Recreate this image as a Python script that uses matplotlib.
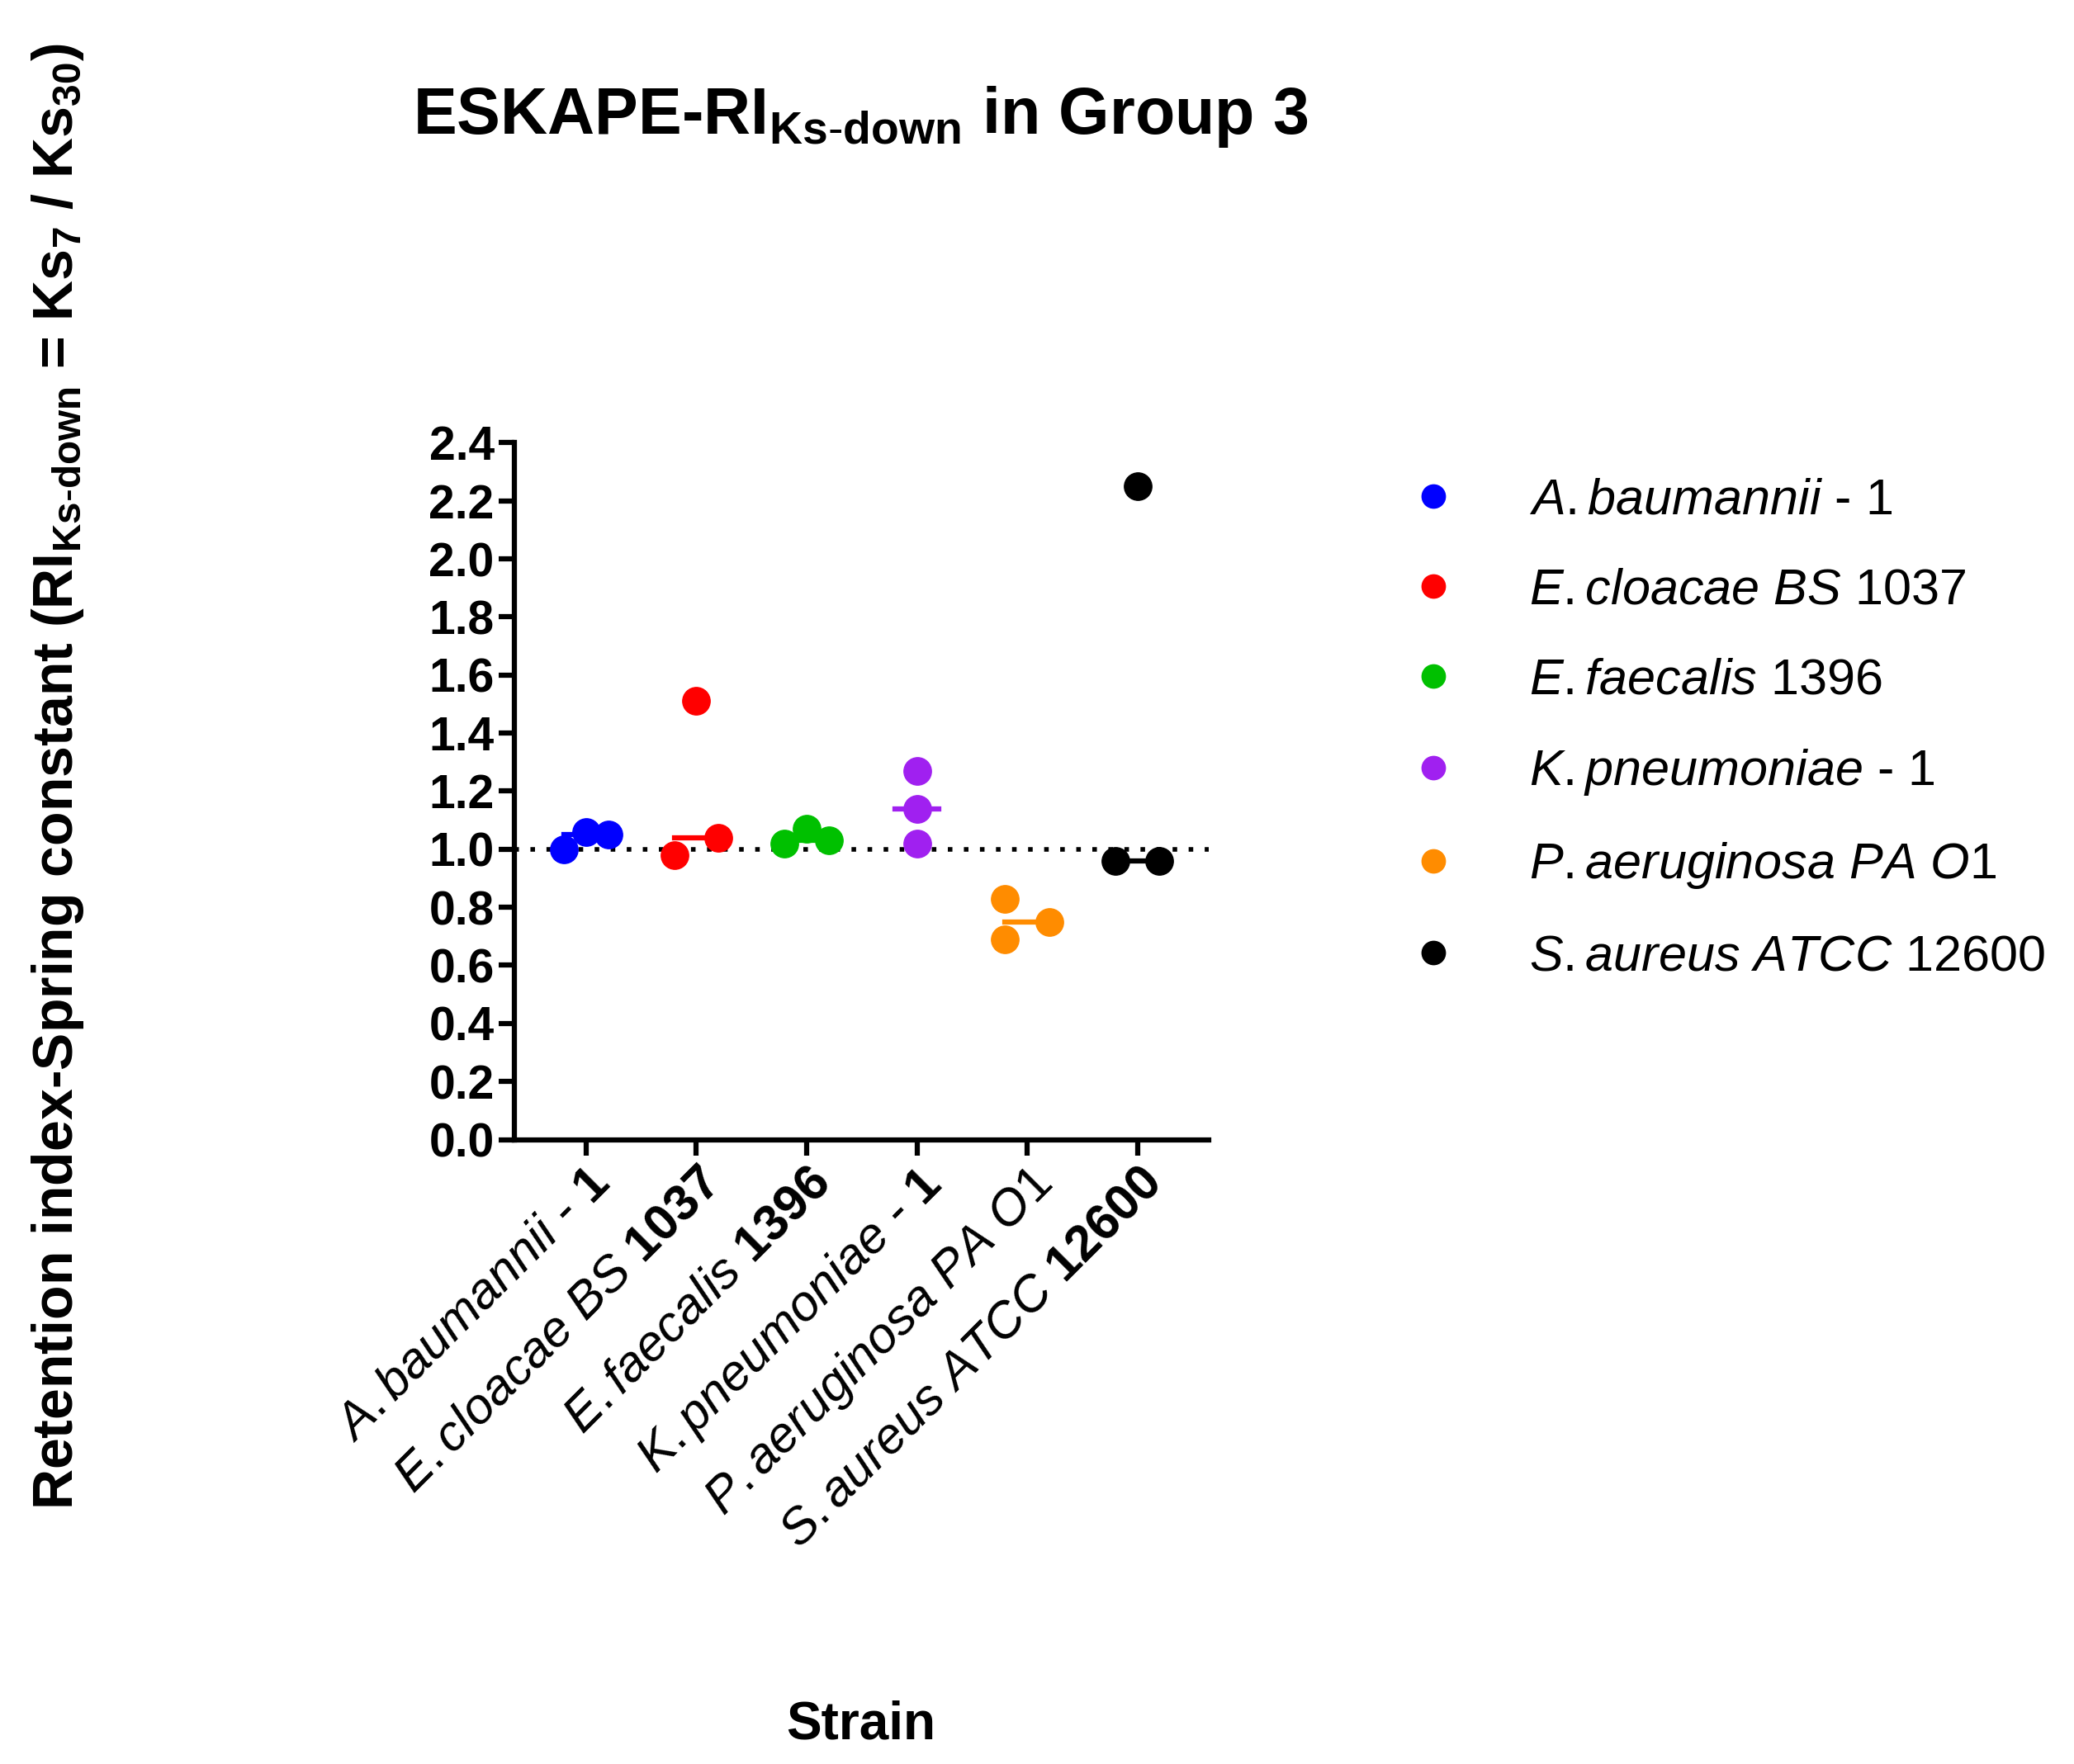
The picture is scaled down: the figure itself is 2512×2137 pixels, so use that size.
import matplotlib
matplotlib.use("Agg")
import matplotlib.pyplot as plt
import numpy as np

plt.rcParams['font.family'] = ['Liberation Sans', 'DejaVu Sans']
plt.rcParams['mathtext.fontset'] = 'custom'
plt.rcParams['mathtext.rm'] = 'Liberation Sans'
plt.rcParams['mathtext.it'] = 'Liberation Sans:italic'
plt.rcParams['mathtext.bf'] = 'Liberation Sans:bold'

strains = ["A.baumannii", "E.cloacae BS", "E.faecalis", "K.pneumoniae", "P.aeruginosa PA O1", "S.aureus ATCC"]
suffixes = [" - 1", " 1037", " 1396", " - 1", "", " 12600"]
colors = ["#0000FF", "#FF0000", "#00C000", "#A020F0", "#FF8C00", "#000000"]
values = [
    [1.00, 1.06, 1.05],
    [0.98, 1.51, 1.04],
    [1.02, 1.07, 1.03],
    [1.02, 1.27, 1.14],
    [0.69, 0.83, 0.75],
    [0.96, 2.25, 0.96],
]
yticks = [0.0, 0.2, 0.4, 0.6, 0.8, 1.0, 1.2, 1.4, 1.6, 1.8, 2.0, 2.2, 2.4]

# horizontal spread of points within each group (styling)
offsets = [
    [-0.2, 0.0, 0.2],
    [-0.2, 0.0, 0.2],
    [-0.2, 0.0, 0.2],
    [0.0, 0.0, 0.0],
    [-0.2, -0.2, 0.2],
    [-0.2, 0.0, 0.2],
]

def it(s):
    return r'$\mathit{' + s.replace(' ', r'\ ').replace('.', '{.}') + '}$'

fig = plt.figure(figsize=(25.12, 21.37), dpi=100)
ax = fig.add_axes([0.248, 0.354, 0.335, 0.395])

for i, (vals, c) in enumerate(zip(values, colors)):
    xs = [i + o for o in offsets[i]]
    ax.plot(xs, vals, 'o', color=c, markersize=24, zorder=3,
            label=it(strains[i]) + suffixes[i], linestyle='none')
    med = np.median(vals)
    ax.plot([i - 0.2, i + 0.2], [med, med], color=c, lw=4.5, zorder=2)

ax.axhline(1.0, color='black', lw=4, ls=(0, (1, 2.5)), zorder=1)

ax.set_xlim(-0.65, 5.65)
ax.set_ylim(0, 2.4)
ax.set_yticks(yticks)
ax.set_yticklabels([f"{v:.1f}" for v in yticks], fontsize=41, fontweight='bold')
ax.set_xticks(range(len(strains)))
ax.set_xticklabels([it(s) + r'$\mathbf{' + suf.replace(' ', r'\ ').replace('-', r'\text{-}') + '}$' if suf else it(s)
                    for s, suf in zip(strains, suffixes)],
                   rotation=45, ha='right', rotation_mode='anchor', fontsize=44)
for sp in ['top', 'right']:
    ax.spines[sp].set_visible(False)
for sp in ['left', 'bottom']:
    ax.spines[sp].set_linewidth(4.5)
ax.tick_params(width=4.5, length=14)

fig.text(0.415, 0.934, r'ESKAPE-RI$_{\mathbf{Ks\text{-}down}}$ in Group 3',
         ha='center', va='center', fontsize=57, fontweight='bold')
fig.text(0.028, 0.56, r'Retention index-Spring constant (RI$_{\mathbf{Ks\text{-}down}}$ = Ks$_{\mathbf{7}}$ / Ks$_{\mathbf{30}}$)',
         rotation=90, ha='center', va='center', fontsize=49, fontweight='bold')
fig.text(0.415, 0.022, 'Strain', ha='center', va='center', fontsize=46, fontweight='bold')

fig.legend(loc='upper left', bbox_to_anchor=(0.645, 0.755), frameon=False,
           fontsize=44, handletextpad=0.9, labelspacing=0.85, markerscale=0.85)

fig.savefig("out.png", dpi=100)
